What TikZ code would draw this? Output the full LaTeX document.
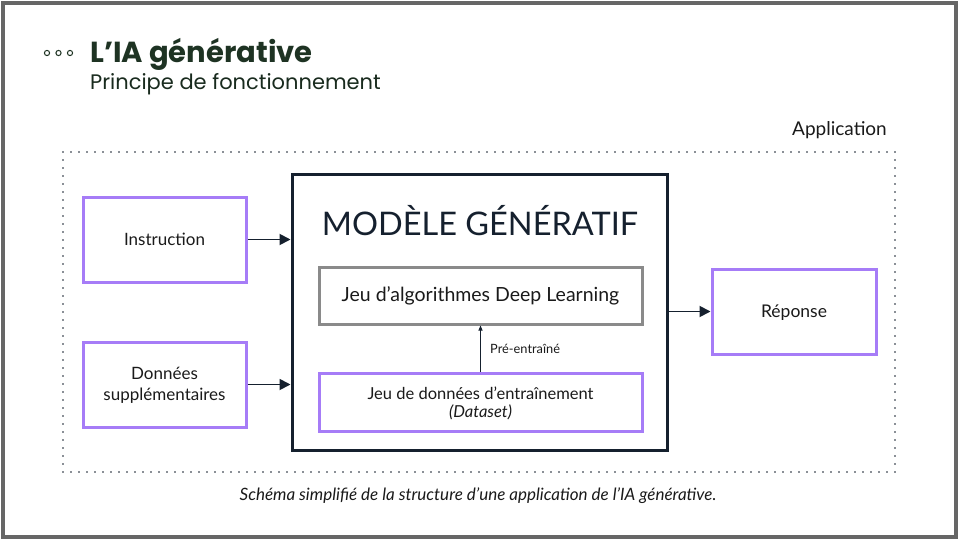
\documentclass[tikz,border=0pt]{standalone}
\usepackage{fontspec}
\setmainfont{Lato}
\newfontfamily\titlefont{Poppins}
\usetikzlibrary{arrows.meta}
\definecolor{navy}{HTML}{15202E}
\definecolor{violet}{HTML}{A67CF7}
\definecolor{boxgray}{HTML}{8A8A8A}
\definecolor{framegray}{HTML}{666666}
\definecolor{titlegreen}{HTML}{1E3323}
\definecolor{txt}{HTML}{1A1A1A}
\newcommand{\lowertxt}[2]{\raisebox{-#1}[\height][\depth]{\begin{tabular}{@{}c@{}}#2\end{tabular}}}
\tikzset{
  purplebox/.style={draw=violet, line width=3pt, inner sep=0pt, align=center, text=txt},
  arrowline/.style={draw=navy, line width=1.8pt, -{Triangle[length=11pt,width=11pt]}},
  fs/.style={font=\fontsize{#1pt}{\dimexpr #1pt*6/5\relax}\selectfont}
}
\begin{document}
\begin{tikzpicture}[x=1pt,y=-1pt]
\useasboundingbox (0,0) rectangle (960,540);
\fill[white] (0,0) rectangle (960,540);
% frame
\draw[framegray, line width=4pt] (3,3) rectangle (956,537);
% title
\foreach \cx [count=\i] in {47,58.5,70} \draw[titlegreen, line width=1pt] (\cx,53) circle (2.6) coordinate (dot\i);
\node[anchor=base west, inner sep=0pt, text=titlegreen, font=\titlefont\bfseries\fontsize{29}{32}\selectfont] (title) at (90,63) {L’IA générative};
\node[anchor=base west, inner sep=0pt, text=titlegreen!85!black, font=\titlefont\fontsize{21}{24}\selectfont] (subtitle) at (90,90) {Principe de fonctionnement};
% application area
\draw[navy, line width=1.9pt, dash pattern=on 0pt off 8pt, line cap=round] (63,152) rectangle (895,472);
\node[anchor=base east, inner sep=0pt, text=txt, fs=19] (applab) at (887,136) {Application};
% left boxes
\node[purplebox, minimum width=163pt, minimum height=85pt, fs=17] (instr) at (164.5,239.5) {\lowertxt{1.5pt}{Instruction}};
\node[purplebox, minimum width=163pt, minimum height=85pt, fs=17] (donnees) at (164.5,384.5) {\lowertxt{1.5pt}{Données\\supplémentaires}};
% model
\node[draw=navy, line width=3pt, minimum width=375pt, minimum height=275pt, inner sep=0pt] (model) at (479.5,312.5) {};
\node[text=navy, inner sep=0pt, fs=32.5, anchor=base] (modeltitle) at (480,235) {MODÈLE GÉNÉRATIF};
\node[draw=boxgray, line width=3pt, minimum width=323pt, minimum height=57pt, inner sep=0pt, text=txt, fs=19.5] (algo) at (480.5,295.5) {\lowertxt{1.5pt}{Jeu d’algorithmes Deep Learning}};
\node[purplebox, minimum width=323pt, minimum height=58pt, fs=16.5] (dataset) at (480.5,402) {\lowertxt{2.5pt}{Jeu de données d'entraînement\\[-2pt]\textit{(Dataset)}}};
\draw[navy, line width=0.8pt, -{Triangle[length=5pt,width=4pt]}] (dataset.north) -- (algo.south) node[midway, right=6pt, text=txt, fs=12.8] (prelab) {Pré-entraîné};
% right box
\node[purplebox, minimum width=164pt, minimum height=85pt, fs=17.5] (rep) at (794,311.5) {\lowertxt{2pt}{Réponse}};
% arrows
\draw[arrowline] (instr.east) -- (instr.east -| model.west);
\draw[arrowline] (donnees.east) -- (donnees.east -| model.west);
\draw[arrowline] (model.east |- rep.west) -- (rep.west);
% caption
\node[text=txt, font=\itshape\fontsize{17pt}{20pt}\selectfont, anchor=base] (caption) at (478,500) {Schéma simplifié de la structure d’une application de l’IA générative.};
\end{tikzpicture}
\end{document}
